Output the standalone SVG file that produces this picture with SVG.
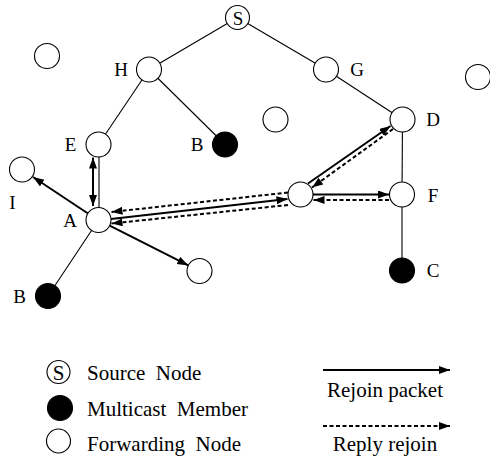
<svg xmlns="http://www.w3.org/2000/svg" width="490" height="466" viewBox="0 0 490 466">
<style>
  .edge{stroke:#000;stroke-width:1.1;fill:none}
  .arr{stroke:#000;stroke-width:2;fill:none;marker-end:url(#ah)}
  .dash{stroke:#000;stroke-width:2;fill:none;stroke-dasharray:4 2.5;marker-end:url(#ah)}
  .node{fill:#fff;stroke:#000;stroke-width:1.1}
  .mem{fill:#000;stroke:#000;stroke-width:1.1}
  text{font-family:"Liberation Serif","Times New Roman",serif;fill:#000}
  .lbl{font-size:19px;text-anchor:middle}
  .leg{font-size:21px}
</style>
<defs>
  <marker id="ah" markerUnits="userSpaceOnUse" markerWidth="12" markerHeight="9" refX="11" refY="4" orient="auto-start-reverse">
    <path d="M0,0 L11,4 L0,8 z" fill="#000"/>
  </marker>
</defs>
<g id="connectors">
  <line class="edge" x1="237.5" y1="17.5" x2="149" y2="69.5"/>
  <line class="edge" x1="237.5" y1="17.5" x2="326" y2="69.5"/>
  <line class="edge" x1="149" y1="69.5" x2="98.5" y2="144.5"/>
  <line class="edge" x1="149" y1="69.5" x2="225" y2="144.5"/>
  <line class="edge" x1="326" y1="69.5" x2="402.5" y2="119.5"/>
  <line class="edge" x1="402.5" y1="119.5" x2="402" y2="194.5"/>
  <line class="edge" x1="402" y1="194.5" x2="402" y2="270.5"/>
  <line class="edge" x1="99" y1="144.5" x2="99" y2="220"/>
  <line class="edge" x1="98.5" y1="220" x2="48" y2="296"/>
  <line class="arr" style="marker-start:url(#ah)" x1="93" y1="157.5" x2="93" y2="206"/>
  <line class="arr" x1="88" y1="213.5" x2="33" y2="177"/>
  <line class="arr" x1="109.7" y1="225.6" x2="188.3" y2="265.4"/>
  <line class="arr" x1="111" y1="219" x2="287.5" y2="199"/>
  <line class="dash" x1="288" y1="192.5" x2="111.5" y2="212"/>
  <line class="dash" x1="288" y1="205" x2="111.5" y2="223.5"/>
  <line class="arr" x1="308" y1="183.5" x2="390.5" y2="126"/>
  <line class="dash" x1="393" y1="129" x2="312" y2="187.5"/>
  <line class="arr" x1="313" y1="194.5" x2="389" y2="194.5"/>
  <line class="dash" x1="389" y1="200" x2="313.5" y2="200"/>
</g>
<g id="node-S"><circle class="node" cx="237.5" cy="17.5" r="12"/><text class="lbl" x="238" y="24.5">S</text></g>
<g id="node-H"><circle class="node" cx="149" cy="69.5" r="12.5"/><text class="lbl" x="121" y="75.5">H</text></g>
<g id="node-G"><circle class="node" cx="326" cy="69.5" r="12.5"/><text class="lbl" x="357" y="76">G</text></g>
<g id="node-D"><circle class="node" cx="402.5" cy="119.5" r="12.5"/><text class="lbl" x="433" y="126">D</text></g>
<g id="node-F"><circle class="node" cx="402" cy="194.5" r="12.5"/><text class="lbl" x="433" y="202">F</text></g>
<g id="node-C"><circle class="mem" cx="402" cy="270.5" r="12.5"/><text class="lbl" x="433" y="277">C</text></g>
<g id="node-E"><circle class="node" cx="98.5" cy="144.5" r="12.5"/><text class="lbl" x="70.5" y="151">E</text></g>
<g id="node-B1"><circle class="mem" cx="225" cy="144.5" r="12.5"/><text class="lbl" x="197" y="151">B</text></g>
<g id="node-I"><circle class="node" cx="22" cy="169.5" r="12.5"/><text class="lbl" x="12.5" y="209">I</text></g>
<g id="node-A"><circle class="node" cx="98.5" cy="220" r="12.5"/><text class="lbl" x="70" y="227">A</text></g>
<g id="node-B2"><circle class="mem" cx="48" cy="296" r="12.5"/><text class="lbl" x="19.5" y="303">B</text></g>
<g id="node-L"><circle class="node" cx="199.5" cy="271" r="12.5"/></g>
<g id="node-M"><circle class="node" cx="300.5" cy="194.5" r="12.5"/></g>
<g id="node-T"><circle class="node" cx="275.5" cy="119.5" r="12.5"/></g>
<g id="node-TL"><circle class="node" cx="47" cy="56" r="12.5"/></g>
<g id="node-TR"><circle class="node" cx="478" cy="77" r="12.5"/></g>
<g id="legend">
  <circle class="node" cx="58.5" cy="372" r="11.5"/>
  <text class="leg" x="58.5" y="379.5" text-anchor="middle">S</text>
  <text class="leg" x="87" y="380" xml:space="preserve">Source  Node</text>
  <circle class="mem" cx="60" cy="408" r="12.5"/>
  <text class="leg" x="87" y="416" xml:space="preserve">Multicast  Member</text>
  <circle class="node" cx="58.5" cy="441" r="12"/>
  <text class="leg" x="87" y="451" xml:space="preserve">Forwarding  Node</text>
  <line class="arr" x1="323" y1="370" x2="450" y2="370"/>
  <text class="leg" x="385" y="397" text-anchor="middle">Rejoin packet</text>
  <line class="dash" x1="323" y1="426" x2="450" y2="426"/>
  <text class="leg" x="385" y="451" text-anchor="middle">Reply rejoin</text>
</g>
</svg>
